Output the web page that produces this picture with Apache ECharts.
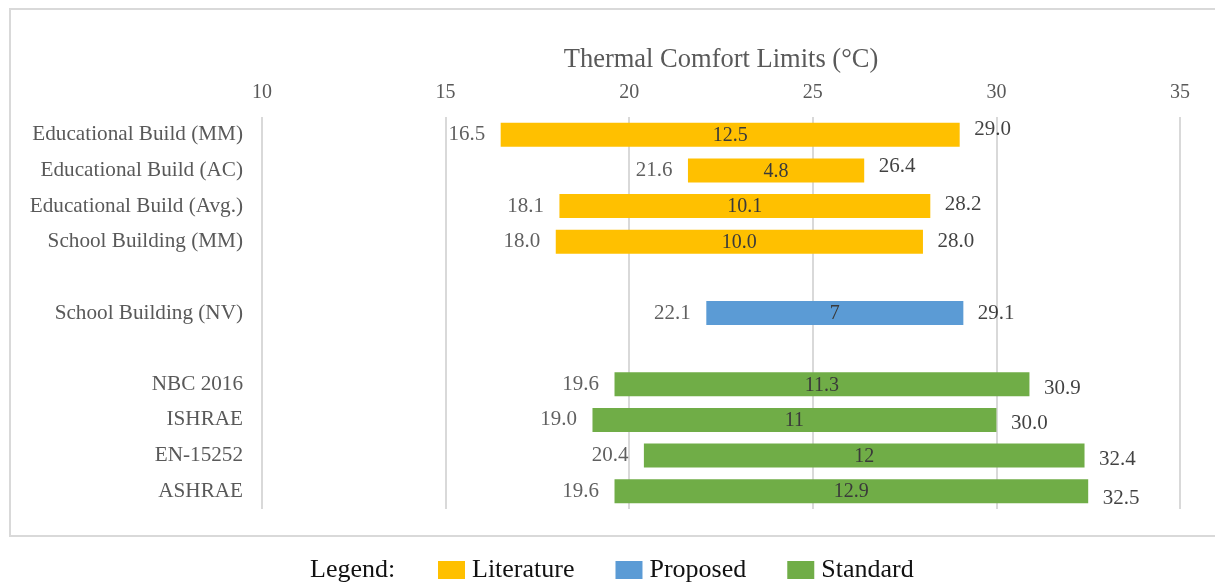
<!DOCTYPE html>
<html>
<head>
<meta charset="utf-8">
<title>Thermal Comfort Limits</title>
<script src="https://cdn.jsdelivr.net/npm/echarts@6/dist/echarts.min.js"></script>
<style>
  html, body { margin: 0; padding: 0; background: #ffffff; }
  #chart { width: 1215px; height: 583px; }
</style>
</head>
<body>
<div id="chart"></div>
<script>
// Rows from top to bottom; empty strings are spacer rows between groups.
const categories = [
  'Educational Build (MM)',
  'Educational Build (AC)',
  'Educational Build (Avg.)',
  'School Building (MM)',
  '',
  'School Building (NV)',
  '',
  'NBC 2016',
  'ISHRAE',
  'EN-15252',
  'ASHRAE'
];

// Which group each row belongs to (null for spacer rows).
const groups = [
  'Literature', 'Literature', 'Literature', 'Literature',
  null,
  'Proposed',
  null,
  'Standard', 'Standard', 'Standard', 'Standard'
];

// Lower and upper comfort limits in °C.
const lowerLimits = [16.5, 21.6, 18.1, 18.0, null, 22.1, null, 19.6, 19.0, 20.4, 19.6];
const upperLimits = [29.0, 26.4, 28.2, 28.0, null, 29.1, null, 30.9, 30.0, 32.4, 32.5];

// Axis ticks.
const axisMin = 10;
const axisMax = 35;
const axisStep = 5;

// Group colours.
const groupColors = {
  Literature: '#FFC000',
  Proposed: '#5B9BD5',
  Standard: '#70AD47'
};

// Small vertical nudges for the upper-limit labels.
const upperLabelNudge = [-5, -4, -2, 0, 0, 0, 0, 4, 4, 4, 7];

const FONT = '"Liberation Serif", "Times New Roman", serif';

const spans = lowerLimits.map((lo, i) =>
  lo == null ? null : Math.round((upperLimits[i] - lo) * 10) / 10
);

function spanText(i) {
  const v = spans[i];
  return groups[i] === 'Literature' ? v.toFixed(1) : String(v);
}

const baseSeries = {
  name: 'base',
  type: 'bar',
  stack: 'range',
  silent: true,
  barWidth: 24,
  itemStyle: { color: 'transparent' },
  data: lowerLimits.map(v => (v == null ? '-' : v)),
  z: 1
};

const groupSeries = Object.keys(groupColors).map(g => ({
  name: g,
  type: 'bar',
  stack: 'range',
  barWidth: 24,
  itemStyle: { color: groupColors[g] },
  label: {
    show: true,
    position: 'inside',
    color: '#3a3a3a',
    fontFamily: FONT,
    fontSize: 20,
    offset: [0, 1],
    formatter: p => spanText(p.dataIndex)
  },
  data: spans.map((v, i) => (groups[i] === g ? v : '-')),
  z: 2
}));

const lowerLabelSeries = {
  name: 'lowerLabels',
  type: 'scatter',
  symbolSize: 1,
  silent: true,
  itemStyle: { color: 'transparent' },
  label: {
    show: true,
    position: 'left',
    distance: 15,
    color: '#383838',
    fontFamily: FONT,
    fontSize: 21,
    formatter: p => p.value[0].toFixed(1)
  },
  data: lowerLimits
    .map((v, i) => (v == null ? null : [v, i]))
    .filter(d => d !== null),
  z: 3
};

const upperLabelSeries = {
  name: 'upperLabels',
  type: 'scatter',
  symbolSize: 1,
  silent: true,
  itemStyle: { color: 'transparent' },
  data: upperLimits
    .map((v, i) => (v == null ? null : {
      value: [v, i],
      label: { offset: [0, upperLabelNudge[i]] }
    }))
    .filter(d => d !== null),
  label: {
    show: true,
    position: 'right',
    distance: 14,
    color: '#111111',
    fontFamily: FONT,
    fontSize: 21,
    formatter: p => p.value[0].toFixed(1)
  },
  z: 3
};

const chart = echarts.init(document.getElementById('chart'), null, { renderer: 'canvas' });

chart.setOption({
  animation: false,
  backgroundColor: '#ffffff',
  textStyle: { fontFamily: FONT },
  grid: {
    left: 262,
    right: 35,
    top: 117,
    bottom: 74,
    containLabel: false
  },
  xAxis: {
    type: 'value',
    position: 'top',
    min: axisMin,
    max: axisMax,
    interval: axisStep,
    name: 'Thermal Comfort Limits (°C)',
    nameLocation: 'middle',
    nameGap: 43,
    nameTextStyle: {
      color: '#595959',
      fontFamily: FONT,
      fontSize: 26.5
    },
    axisLine: { show: false },
    axisTick: { show: false },
    axisLabel: {
      color: '#595959',
      fontFamily: FONT,
      fontSize: 20,
      margin: 14
    },
    splitLine: {
      show: true,
      lineStyle: { color: '#d9d9d9', width: 2 }
    }
  },
  yAxis: {
    type: 'category',
    inverse: true,
    data: categories,
    axisLine: { show: false },
    axisTick: { show: false },
    splitLine: { show: false },
    axisLabel: {
      color: '#595959',
      fontFamily: FONT,
      fontSize: 21.2,
      margin: 19
    }
  },
  legend: {
    data: Object.keys(groupColors),
    left: 433,
    top: 552,
    orient: 'horizontal',
    icon: 'rect',
    itemWidth: 27,
    itemHeight: 18,
    itemGap: 41,
    textStyle: {
      color: '#111111',
      fontFamily: FONT,
      fontSize: 26,
      padding: [0, 0, 0, 2]
    },
    selectedMode: false
  },
  graphic: [
    {
      type: 'rect',
      silent: true,
      shape: { x: 10, y: 9, width: 1215, height: 527 },
      style: { fill: 'none', stroke: '#d9d9d9', lineWidth: 2 }
    },
    {
      type: 'text',
      silent: true,
      left: 310,
      top: 557,
      style: {
        text: 'Legend:',
        fill: '#111111',
        font: '26px ' + FONT
      }
    }
  ],
  series: [baseSeries, ...groupSeries, lowerLabelSeries, upperLabelSeries]
});
</script>
</body>
</html>
